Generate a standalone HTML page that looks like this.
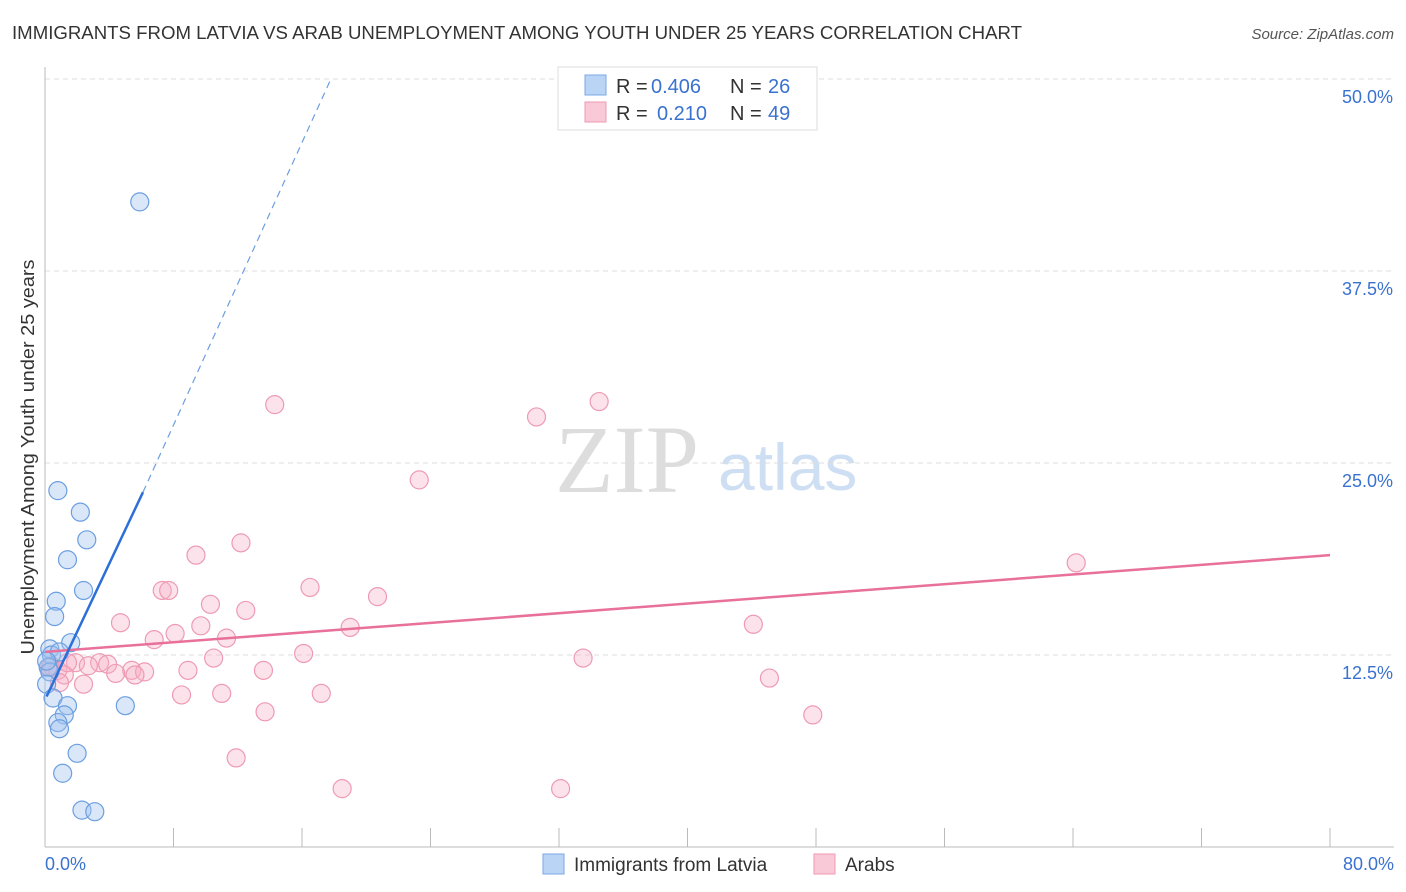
<!DOCTYPE html>
<html><head><meta charset="utf-8"><style>
body{margin:0;background:#fff;font-family:"Liberation Sans",sans-serif;}
svg{display:block}
</style></head><body>
<svg id="chart" width="1406" height="892" xmlns="http://www.w3.org/2000/svg">
<text x="12" y="39" font-size="18" fill="#333" textLength="1010" lengthAdjust="spacingAndGlyphs">IMMIGRANTS FROM LATVIA VS ARAB UNEMPLOYMENT AMONG YOUTH UNDER 25 YEARS CORRELATION CHART</text>
<text x="1394" y="39" font-size="15" fill="#555" font-style="italic" text-anchor="end">Source: ZipAtlas.com</text>
<text x="34" y="457" font-size="18" fill="#333" text-anchor="middle" transform="rotate(-90 34 457)" textLength="395" lengthAdjust="spacingAndGlyphs">Unemployment Among Youth under 25 years</text>
<text x="555" y="492" font-size="96" fill="#ddd" font-family="Liberation Serif,serif">ZIP</text>
<text x="718" y="490" font-size="66" fill="#cfdff3">atlas</text>
<g id="grid"></g><g id="pts"></g><g id="lines"></g>
<g>
<rect x="558" y="67" width="259" height="63" fill="#fff" stroke="#ddd"/>
<rect x="585" y="75" width="21" height="20" fill="#b9d4f5" stroke="#7aa8e6"/>
<rect x="585" y="102" width="21" height="20" fill="#f9c9d7" stroke="#ee9ab3"/>
<text x="616" y="93" font-size="20" fill="#333">R =</text>
<text x="651" y="93" font-size="20" fill="#3a72d0">0.406</text>
<text x="730" y="93" font-size="20" fill="#333">N =</text>
<text x="768" y="93" font-size="20" fill="#3a72d0">26</text>
<text x="616" y="120" font-size="20" fill="#333">R =</text>
<text x="657" y="120" font-size="20" fill="#3a72d0">0.210</text>
<text x="730" y="120" font-size="20" fill="#333">N =</text>
<text x="768" y="120" font-size="20" fill="#3a72d0">49</text>
</g>
<g>
<rect x="543" y="854" width="21" height="20" fill="#b9d4f5" stroke="#7aa8e6"/>
<text x="574" y="871" font-size="19" fill="#333">Immigrants from Latvia</text>
<rect x="814" y="854" width="21" height="20" fill="#f9c9d7" stroke="#ee9ab3"/>
<text x="845" y="871" font-size="19" fill="#333">Arabs</text>
</g>
<text x="45" y="870" font-size="18" fill="#3a72d0">0.0%</text>
<text x="1394" y="870" font-size="18" fill="#3a72d0" text-anchor="end">80.0%</text>
</svg>
<script>
const yTicks=[12.5,25,37.5,50];
const yTickLabels=["12.5%","25.0%","37.5%","50.0%"];
const latviaX=[5.9,0.8,2.2,2.6,1.4,2.4,0.7,0.6,1.6,0.3,0.4,0.9,0.2,0.3,0.1,0.5,1.4,1.2,0.8,0.9,5.0,2.0,1.1,2.3,3.1,0.1];
const latviaY=[42.0,23.2,21.8,20.0,18.7,16.7,16.0,15.0,13.3,12.9,12.5,12.7,11.7,11.4,10.6,9.7,9.2,8.6,8.1,7.7,9.2,6.1,4.8,2.4,2.3,12.1];
const arabX=[14.3,30.6,34.5,23.3,64.2,9.4,12.2,7.3,7.7,16.5,20.7,10.3,4.7,12.5,9.7,8.1,19.0,44.1,6.8,11.3,16.1,33.5,10.5,1.9,3.4,2.7,3.9,5.4,0.4,0.8,1.2,4.4,6.2,5.6,8.9,13.6,2.4,8.5,11.0,17.2,45.1,13.7,47.8,11.9,32.1,18.5,1.4,0.9,0.3];
const arabY=[28.8,28.0,29.0,23.9,18.5,19.0,19.8,16.7,16.7,16.9,16.3,15.8,14.6,15.4,14.4,13.9,14.3,14.5,13.5,13.6,12.6,12.3,12.3,12.0,12.0,11.8,11.9,11.5,11.8,11.5,11.2,11.3,11.4,11.2,11.5,11.5,10.6,9.9,10.0,10.0,11.0,8.8,8.6,5.8,3.8,3.8,12.0,10.7,11.7];
const latviaFit=[0.1,9.8,6.1,23.1];
const latviaDash=[6.1,23.1,17.8,50.0];
const arabFit=[0,12.7,80,19.0];
const X=v=>45+v/80*1285, Y=v=>847-v/12.5*192;
const NS="http://www.w3.org/2000/svg";
const mk=(p,t,a)=>{const e=document.createElementNS(NS,t);for(const k in a)e.setAttribute(k,a[k]);p.appendChild(e);return e;};
const grid=document.getElementById('grid');
yTicks.forEach((t,i)=>{
 const l=mk(grid,'line',{x1:45,x2:1394,y1:Y(t),y2:Y(t),stroke:'#ddd','stroke-dasharray':'5,4'});
 
 
 const tx=mk(grid,'text',{x:1393,y:Y(t)+24,'font-size':18,fill:'#3a72d0','text-anchor':'end'});
 tx.textContent=yTickLabels[i];
 
 
});
mk(grid,'line',{x1:45,x2:45,y1:67,y2:847,stroke:'#bbb'});
mk(grid,'line',{x1:45,x2:1394,y1:847,y2:847,stroke:'#bbb'});
for(let i=0;i<=10;i++){const x=45+i*128.5;mk(grid,'line',{x1:x,x2:x,y1:828,y2:847,stroke:'#bbb'});}
const pts=document.getElementById('pts');
arabX.forEach((v,i)=>{
 const c=mk(pts,'circle',{cx:X(v),cy:Y(arabY[i]),r:9,fill:'rgba(246,176,198,0.35)',stroke:'#ee9ab3','stroke-width':1.2});
 
 
});
latviaX.forEach((v,i)=>{
 const c=mk(pts,'circle',{cx:X(v),cy:Y(latviaY[i]),r:9,fill:'rgba(160,196,240,0.4)',stroke:'#6c9ee0','stroke-width':1.2});
 
 
});
const lines=document.getElementById('lines');
const a=mk(lines,'line',{x1:X(arabFit[0]),y1:Y(arabFit[1]),x2:X(arabFit[2]),y2:Y(arabFit[3]),stroke:'#e8709a','stroke-width':2.5});


const b=mk(lines,'line',{x1:X(latviaFit[0]),y1:Y(latviaFit[1]),x2:X(latviaFit[2]),y2:Y(latviaFit[3]),stroke:'#2d6fd8','stroke-width':2.5});


const d=mk(lines,'line',{x1:X(latviaDash[0]),y1:Y(latviaDash[1]),x2:X(latviaDash[2]),y2:Y(latviaDash[3]),stroke:'#6c9ee0','stroke-width':1.2,'stroke-dasharray':'7,5'});


</script>
</body></html>
